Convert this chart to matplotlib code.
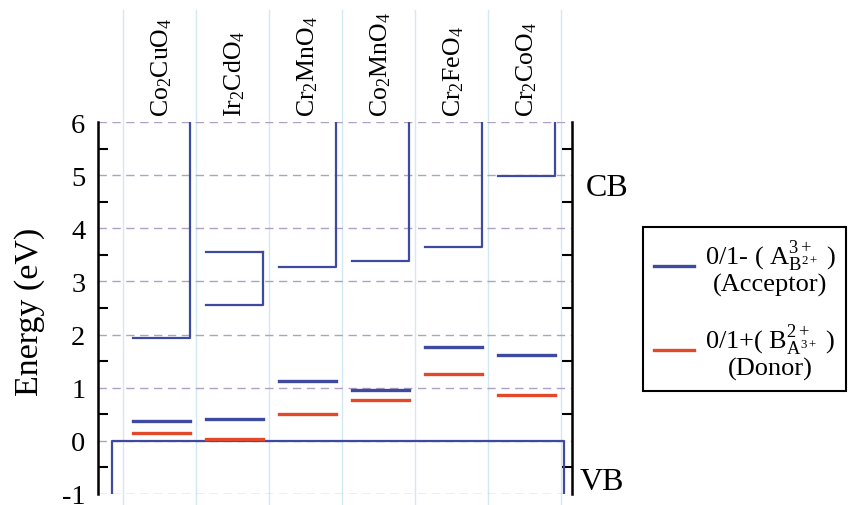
import matplotlib
matplotlib.use("Agg")
import matplotlib.pyplot as plt
import matplotlib.transforms as mtransforms
from matplotlib.ticker import MultipleLocator

plt.rcParams['font.family'] = ['Liberation Serif', 'DejaVu Serif']
plt.rcParams['mathtext.fontset'] = 'custom'
plt.rcParams['mathtext.rm'] = 'Liberation Serif'
plt.rcParams['mathtext.it'] = 'Liberation Serif:italic'
plt.rcParams['axes.unicode_minus'] = False

# compounds and defect levels (eV, relative to VBM)
compounds = ['Co$_2$CuO$_4$', 'Ir$_2$CdO$_4$', 'Cr$_2$MnO$_4$',
             'Co$_2$MnO$_4$', 'Cr$_2$FeO$_4$', 'Cr$_2$CoO$_4$']
acceptor = [0.38, 0.42, 1.12, 0.96, 1.77, 1.61]
donor = [0.15, 0.04, 0.50, 0.77, 1.25, 0.87]
cbm = [1.94, 2.56, 3.27, 3.38, 3.64, 4.98]
cb_top = [6, 3.56, 6, 6, 6, 6]

blue = '#3d4aa0'
red = '#e2492a'

fig = plt.figure(figsize=(8.52, 5.06), dpi=100)
ax = fig.add_axes([98/852, 11/506, 474/852, 372/506])

ax.set_xlim(-0.849, 5.644)
ax.set_ylim(-1, 6)

# grid lines
for y in range(-1, 7):
    ax.axhline(y, color='#b0a0c4', lw=1, ls=(0, (6, 4)), zorder=1)

# column separators running over the whole figure
trans = mtransforms.blended_transform_factory(ax.transData, ax.transAxes)
for i in range(len(compounds) + 1):
    ax.plot([i - 0.5, i - 0.5], [-0.04, 1.3], transform=trans, color='#d2e8f5',
            lw=1, clip_on=False, zorder=0)

# valence band
ax.plot([-0.66, -0.66, 5.53, 5.53], [-1, 0, 0, -1], color=blue, lw=1.6, zorder=3)

for i, name in enumerate(compounds):
    x0, x1 = i - 0.37, i + 0.41
    # conduction band edge
    ax.plot([x0, x1, x1], [cbm[i], cbm[i], cb_top[i]], color=blue, lw=1.6, zorder=3)
    if cb_top[i] < 6:
        ax.plot([x0, x1], [cb_top[i], cb_top[i]], color=blue, lw=1.6, zorder=3)
    la, = ax.plot([x0, x1], [acceptor[i], acceptor[i]], color=blue, lw=2.4, zorder=4)
    ld, = ax.plot([x0, x1], [donor[i], donor[i]], color=red, lw=2.4, zorder=4)
    ax.text(i + 0.03, 1.016, name, transform=trans, rotation=90, ha='center',
            va='bottom', fontsize=18.5)

for s in ['top', 'bottom']:
    ax.spines[s].set_visible(False)
for s in ['left', 'right']:
    ax.spines[s].set_linewidth(1.8)

ax.set_xticks([])
ax.yaxis.set_major_locator(MultipleLocator(1))
ax.yaxis.set_minor_locator(MultipleLocator(0.5))
ax.tick_params(axis='y', which='major', length=0, pad=9, labelsize=20.5)
ax.tick_params(axis='y', which='minor', direction='in', length=7, width=1.5,
               left=True, right=True)

fig.text(30/852, 1 - 312/506, 'Energy (eV)', rotation=90, ha='center', va='center',
         fontsize=24.5)
fig.text(586/852, 1 - 189/506, 'CB', ha='left', va='center', fontsize=23)
fig.text(580/852, 1 - 482/506, 'VB', ha='left', va='center', fontsize=23)

leg = ax.legend([la, ld],
                ['0/1- ( $\\mathrm{A}_{\\mathrm{B}^{2+}}^{3+}$ )\n(Acceptor)',
                 '0/1+( $\\mathrm{B}_{\\mathrm{A}^{3+}}^{2+}$ )\n(Donor)'],
                loc='upper left', bbox_to_anchor=(643/852, 1 - 228/506),
                bbox_transform=fig.transFigure, borderaxespad=0, fontsize=19,
                fancybox=False, edgecolor='black', framealpha=1,
                handlelength=1.55, handletextpad=0.4, borderpad=0.4,
                labelspacing=0.95)
leg.get_frame().set_linewidth(1.5)
for t in leg.get_texts():
    t.set_multialignment('center')
    t.set_linespacing(1.0)

fig.savefig('out.png', dpi=100, facecolor='white')
